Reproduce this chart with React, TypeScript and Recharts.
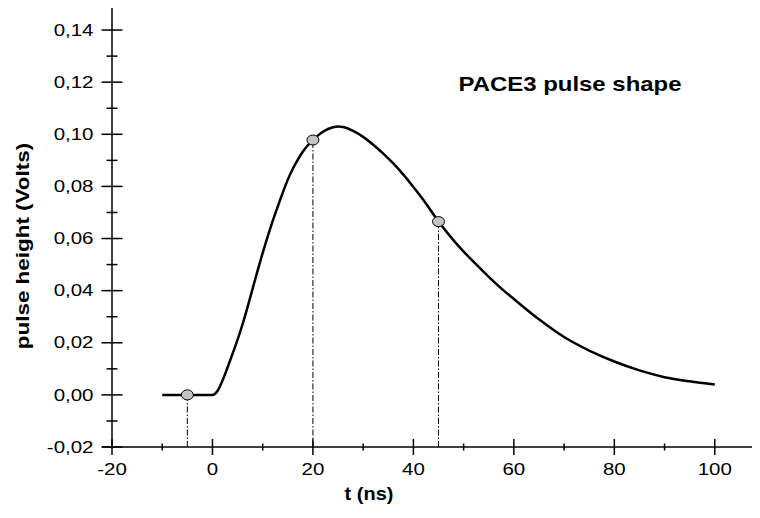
import React from 'react';
import {
  ComposedChart,
  Line,
  Scatter,
  XAxis,
  YAxis,
  ReferenceLine,
} from 'recharts';

// pulse shape: time (ns) and height (V)
const tValues = [
  -10, -5, 0, 1, 2, 3, 4, 5, 6, 7, 8, 9, 10, 11, 12, 13, 14, 15, 16, 17, 18, 19,
  20, 22, 24, 25, 26, 28, 30, 32, 34, 36, 38, 40, 42, 45, 48, 50, 52, 55, 58, 60,
  65, 70, 75, 80, 85, 90, 95, 100,
];
const pulseValues = [
  0, 0, 0, 0.0015, 0.0055, 0.0105, 0.0158, 0.0212, 0.0272, 0.0338, 0.0408,
  0.0478, 0.0545, 0.0608, 0.0668, 0.0723, 0.0776, 0.0826, 0.0868, 0.0903,
  0.0934, 0.0958, 0.0978, 0.101, 0.1027, 0.103, 0.1028, 0.1013, 0.099, 0.096,
  0.0926, 0.0888, 0.0845, 0.0798, 0.0748, 0.0665, 0.0593, 0.055, 0.051, 0.0453,
  0.04, 0.0368, 0.029, 0.0222, 0.017, 0.0128, 0.0094, 0.0068, 0.0052, 0.004,
];

// sampling points marked on the curve
const markerT = [-5, 20, 45];
const markerValues = [0, 0.0978, 0.0665];

const xTicks = [-20, -10, 0, 10, 20, 30, 40, 50, 60, 70, 80, 90, 100];
const yTicks = [
  -0.02, -0.01, 0, 0.01, 0.02, 0.03, 0.04, 0.05, 0.06, 0.07, 0.08, 0.09, 0.1,
  0.11, 0.12, 0.13, 0.14,
];
const xDomain: [number, number] = [-20, 109];
const yDomain: [number, number] = [-0.02, 0.15];

const curve = tValues.map((t, i) => ({ t, v: pulseValues[i] }));
const markers = markerT.map((t, i) => ({ t, v: markerValues[i] }));

const FONT = '"Liberation Sans", Arial, sans-serif';

function YTick(props: any) {
  const { x, y, payload } = props;
  const major = Math.round(payload.value * 100) % 2 === 0;
  const len = major ? 10.5 : 5.5;
  return (
    <g>
      <line x1={x - len} x2={x + len} y1={y} y2={y} stroke="#000" strokeWidth={1.5} />
      {major && (
        <text
          transform={`translate(${x - 18.5},${y + 5.7}) scale(1.28,1)`}
          textAnchor="end"
          fontFamily={FONT}
          fontSize={16}
          fill="#000"
        >
          {payload.value.toFixed(2).replace('.', ',')}
        </text>
      )}
    </g>
  );
}

function XTick(props: any) {
  const { x, y, payload } = props;
  const major = payload.value % 20 === 0;
  const len = major ? 8 : 3.5;
  return (
    <g>
      {payload.value === xDomain[0] && (
        <line x1={x - 10} x2={x} y1={y} y2={y} stroke="#000" strokeWidth={1.5} />
      )}
      <line x1={x} x2={x} y1={y - len} y2={y + len} stroke="#000" strokeWidth={1.5} />
      {major && (
        <text
          transform={`translate(${x},${y + 28}) scale(1.28,1)`}
          textAnchor="middle"
          fontFamily={FONT}
          fontSize={16}
          fill="#000"
        >
          {payload.value}
        </text>
      )}
    </g>
  );
}

function Marker(props: any) {
  return (
    <ellipse
      cx={props.cx}
      cy={props.cy}
      rx={6}
      ry={5}
      fill="#c4c4c4"
      stroke="#000"
      strokeWidth={1}
    />
  );
}

const textStyle: React.CSSProperties = {
  position: 'absolute',
  fontFamily: FONT,
  fontWeight: 'bold',
  lineHeight: 1,
  whiteSpace: 'nowrap',
  color: '#000',
};

export default function App() {
  return (
    <div style={{ position: 'relative', width: 760, height: 518, margin: -8, background: '#fff' }}>
      <ComposedChart
        width={760}
        height={518}
        margin={{ top: 4, right: 0, bottom: 0, left: 0 }}
      >
        <XAxis
          type="number"
          dataKey="t"
          domain={xDomain}
          ticks={xTicks}
          interval={0}
          allowDataOverflow
          height={71}
          tickSize={0}
          tickMargin={0}
          tickLine={false}
          axisLine={{ stroke: '#000', strokeWidth: 1.5 }}
          tick={(p: any) => <XTick {...p} />}
        />
        <YAxis
          type="number"
          domain={yDomain}
          ticks={yTicks}
          interval={0}
          allowDataOverflow
          width={112}
          tickSize={0}
          tickMargin={0}
          tickLine={false}
          axisLine={{ stroke: '#000', strokeWidth: 1.5 }}
          tick={(p: any) => <YTick {...p} />}
        />
        <ReferenceLine y={yDomain[1]} stroke="#000" strokeWidth={1.5} />
        {markers.map((m) => (
          <ReferenceLine
            key={m.t}
            segment={[
              { x: m.t, y: yDomain[0] },
              { x: m.t, y: m.v },
            ]}
            stroke="#000"
            strokeWidth={1}
            strokeDasharray="6 2 1.5 2"
          />
        ))}
        <Line
          data={curve}
          dataKey="v"
          type="monotone"
          stroke="#000"
          strokeWidth={2.5}
          dot={false}
          activeDot={false}
          isAnimationActive={false}
        />
        <Scatter
          data={markers}
          dataKey="v"
          shape={(p: any) => <Marker {...p} />}
          isAnimationActive={false}
        />
      </ComposedChart>

      <div
        style={{
          ...textStyle,
          left: 570,
          top: 83,
          fontSize: 21,
          transform: 'translate(-50%, -50%) scaleX(1.14)',
        }}
      >
        PACE3 pulse shape
      </div>
      <div
        style={{
          ...textStyle,
          left: 369,
          top: 493,
          fontSize: 19,
          transform: 'translate(-50%, -50%) scaleX(1.05)',
        }}
      >
        t (ns)
      </div>
      <div
        style={{
          ...textStyle,
          left: 22,
          top: 246,
          fontSize: 19,
          transform: 'translate(-50%, -50%) rotate(-90deg) scaleX(1.18)',
        }}
      >
        pulse height (Volts)
      </div>
    </div>
  );
}
